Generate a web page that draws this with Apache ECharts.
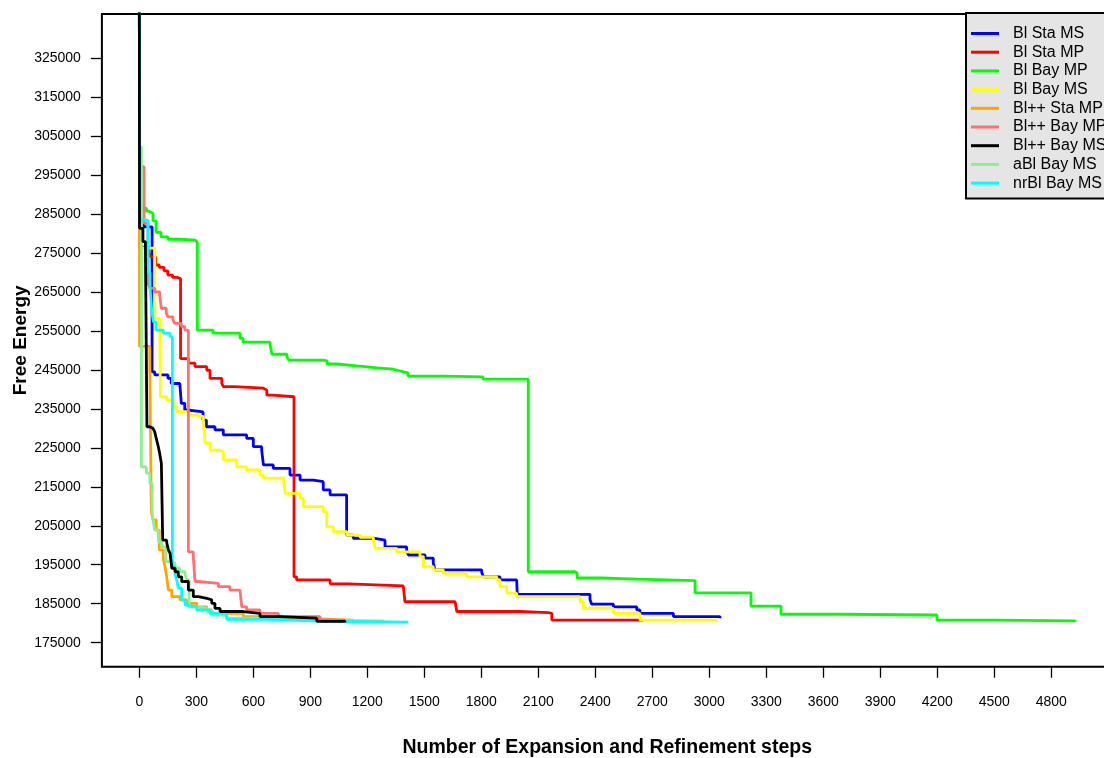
<!DOCTYPE html>
<html>
<head>
<meta charset="utf-8">
<script src="https://cdn.jsdelivr.net/npm/echarts@6/dist/echarts.min.js"></script>
<style>
  html, body { margin: 0; padding: 0; background: #fff; }
  #chart { width: 1104px; height: 758px; }
</style>
</head>
<body>
<div id="chart"></div>
<script>
// Axis tick positions
const xTicks = [0, 300, 600, 900, 1200, 1500, 1800, 2100, 2400, 2700, 3000, 3300, 3600, 3900, 4200, 4500, 4800];
const yTicks = [175000, 185000, 195000, 205000, 215000, 225000, 235000, 245000, 255000, 265000, 275000, 285000, 295000, 305000, 315000, 325000];

// Legend entries (in legend order) and their colours
const seriesNames = ['Bl Sta MS', 'Bl Sta MP', 'Bl Bay MP', 'Bl Bay MS', 'Bl++ Sta MP', 'Bl++ Bay MP', 'Bl++ Bay MS', 'aBl Bay MS', 'nrBl Bay MS'];
const seriesColors = ['#0000FF', '#FF0000', '#00FF00', '#FFFF00', '#FFA500', '#FF7070', '#000000', '#90EE90', '#00FFFF'];

// Free energy after each step change: [step, energy]
const blStaMS = [[0,345000],[1,283000],[25,281700],[67,244500],[81,243700],[151,242800],[168,241500],[213,241100],[221,236400],[239,234700],[256,234200],[335,232100],[353,230400],[398,229600],[442,228300],[565,227400],[600,225300],[644,224400],[653,220600],[705,219700],[793,218000],[846,216700],[916,216300],[968,214200],[1004,212900],[1091,202600],[1126,201800],[1232,201300],[1293,199600],[1407,198800],[1416,197500],[1504,196700],[1547,195400],[1556,193700],[1802,193000],[1811,191900],[1898,191100],[1986,190700],[1989,187400],[2372,186000],[2381,184900],[2495,184200],[2618,183400],[2635,182500],[2811,181700],[3056,181300]];

const blStaMP = [[0,345000],[1,276500],[50,275300],[60,274000],[85,271900],[105,271300],[130,270400],[150,269300],[175,268700],[200,268400],[217,247900],[258,246700],[293,245800],[355,244900],[372,242800],[434,241500],[442,240700],[500,240300],[653,239800],[671,238500],[700,238100],[814,191900],[828,191100],[1004,190100],[1100,189600],[1389,189400],[1398,185500],[1662,185300],[1671,183000],[2000,182700],[2153,182500],[2171,180800],[2644,180400]];

const blBayMP = [[0,345000],[1,286500],[37,285700],[51,285200],[72,283200],[88,280300],[114,279100],[151,278500],[219,278300],[293,277800],[305,255200],[388,254400],[530,253100],[546,252100],[688,251400],[698,249000],[777,248300],[787,247500],[967,247300],[988,246500],[1040,246000],[1145,245700],[1214,245500],[1251,245200],[1335,244700],[1372,244200],[1414,243400],[1598,243200],[1809,242600],[2047,193200],[2293,192900],[2304,191600],[2430,191300],[2620,190900],[2925,187800],[3219,184400],[3377,182300],[3700,182100],[4198,180800],[4500,180600],[4925,180400]];

const blBayMS = [[0,345000],[1,280800],[11,276200],[81,258200],[107,257300],[111,238100],[144,237300],[179,235500],[197,234300],[258,233400],[302,233000],[337,231700],[346,226200],[372,224400],[425,224000],[442,221900],[513,220100],[565,219300],[635,218000],[653,217200],[758,216700],[767,213300],[846,212000],[863,209900],[968,208600],[986,204800],[1021,203500],[1092,202600],[1162,202000],[1232,201300],[1240,199200],[1355,198300],[1477,197100],[1495,194500],[1547,193700],[1600,192800],[1723,191900],[1881,191100],[1898,189400],[1934,187700],[1986,186800],[2319,185500],[2337,183800],[2495,182500],[2635,180800],[3039,180400]];

const blppStaMP = [[0,345000],[1,251000],[55,247500],[63,208600],[72,206500],[89,203900],[105,198800],[126,196700],[135,194500],[144,191900],[153,188500],[171,186800],[214,186000],[249,185100],[302,184200],[355,183400],[381,182500],[547,181700],[705,181300],[846,181000],[1021,180800],[1126,180700]];

const blppBayMP = [[0,345000],[1,297100],[25,282600],[46,267200],[55,265900],[81,265000],[107,264200],[116,260800],[142,259500],[151,258600],[177,257800],[186,256900],[221,256100],[239,255200],[258,198300],[284,197100],[293,190700],[311,190200],[416,189400],[477,188500],[530,188100],[539,184200],[565,183400],[635,182500],[732,181700],[951,180800],[1000,180600]];

const blppBayMS = [[0,345000],[1,281300],[19,277900],[32,276600],[40,230400],[55,230000],[72,229600],[81,229100],[89,227400],[98,225700],[107,223600],[116,221000],[123,201300],[144,200700],[153,198800],[162,197900],[171,194100],[188,193200],[205,191900],[223,190700],[258,188500],[284,186800],[311,186400],[355,186000],[381,185100],[398,183800],[425,183000],[547,182500],[635,181700],[741,181300],[934,180500],[1082,180200]];

const aBlBayMS = [[0,302200],[11,220100],[37,218500],[55,215900],[67,209100],[72,206500],[81,203900],[100,200900],[118,199600],[140,195800],[160,195400],[188,194100],[214,193200],[241,192400],[249,191100],[262,184200],[311,183800],[355,183000],[389,182100],[460,181300],[635,180800],[846,180600],[1284,180400]];

const nrBlBayMS = [[0,345000],[1,283400],[45,270000],[56,266300],[65,260400],[74,257300],[88,255200],[126,254400],[162,253500],[174,194500],[188,192400],[197,191100],[205,189000],[223,186000],[241,184700],[249,184200],[302,183400],[372,182500],[460,181000],[671,180500],[1000,180300],[1416,180200]];

const seriesData = [blStaMS, blStaMP, blBayMP, blBayMS, blppStaMP, blppBayMP, blppBayMS, aBlBayMS, nrBlBayMS];

// Draw order: the black run goes on top of the others
const drawOrder = [0, 1, 2, 3, 4, 5, 7, 8, 6];

const FONT = "'Liberation Sans', Arial, Helvetica, sans-serif";

const series = drawOrder.map((i, k) => ({
  name: seriesNames[i],
  type: 'line',
  step: 'end',
  data: seriesData[i],
  showSymbol: false,
  symbol: 'none',
  color: seriesColors[i],
  lineStyle: { color: seriesColors[i], width: 2.8 },
  clip: true,
  z: 2 + k
}));

const chart = echarts.init(document.getElementById('chart'), null, { renderer: 'canvas' });

chart.setOption({
  animation: false,
  backgroundColor: '#ffffff',
  grid: {
    left: 101.9,
    top: 14,
    width: 1010.6,
    height: 652.7,
    containLabel: false,
    outerBoundsMode: 'none',
    show: true,
    borderColor: '#000',
    borderWidth: 2,
    backgroundColor: 'transparent'
  },
  xAxis: {
    type: 'value',
    min: -197,
    max: 5122,
    name: 'Number of Expansion and Refinement steps',
    nameLocation: 'middle',
    nameGap: 71,
    nameMoveOverlap: false,
    nameTextStyle: { fontFamily: FONT, fontSize: 19.5, fontWeight: 'bold', color: '#000' },
    axisLine: { show: false, onZero: false },
    splitLine: { show: false },
    axisTick: { show: true, inside: false, length: 11, customValues: xTicks, lineStyle: { color: '#000', width: 1.3 } },
    axisLabel: { customValues: xTicks, margin: 28, fontFamily: FONT, fontSize: 14, color: '#000', formatter: v => String(v) }
  },
  yAxis: {
    type: 'value',
    min: 168843,
    max: 336288,
    name: 'Free Energy',
    nameLocation: 'middle',
    nameGap: 72,
    nameMoveOverlap: false,
    nameRotate: 90,
    nameTextStyle: { fontFamily: FONT, fontSize: 19, fontWeight: 'bold', color: '#000' },
    axisLine: { show: false, onZero: false },
    splitLine: { show: false },
    axisTick: { show: true, inside: false, length: 11, customValues: yTicks, lineStyle: { color: '#000', width: 1.3 } },
    axisLabel: { customValues: yTicks, margin: 21, fontFamily: FONT, fontSize: 14, color: '#000', formatter: v => String(v) }
  },
  legend: {
    data: seriesNames,
    orient: 'vertical',
    left: 966,
    top: 13,
    selectedMode: false,
    backgroundColor: '#E5E5E5',
    borderColor: '#000',
    borderWidth: 2,
    borderRadius: 0,
    padding: [12.5, 24, 7.5, 5],
    itemWidth: 28,
    itemHeight: 3,
    itemGap: 2.7,
    icon: 'rect',
    textStyle: { fontFamily: FONT, fontSize: 16, color: '#000', lineHeight: 16, padding: [0, 0, 0, 9] }
  },
  series: series
});
</script>
</body>
</html>
